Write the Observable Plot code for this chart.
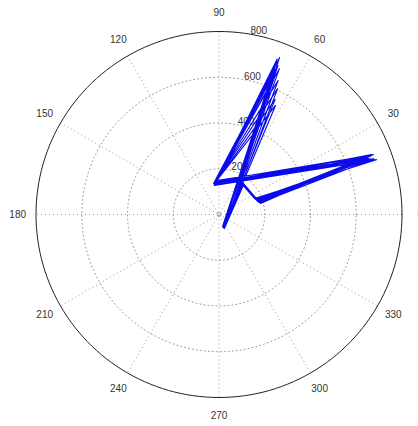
<!DOCTYPE html>
<html>
<head>
<meta charset="utf-8">
<script src="https://cdn.jsdelivr.net/npm/d3@7"></script>
<script src="https://cdn.jsdelivr.net/npm/@observablehq/plot@0.6"></script>
<style>
  html, body { margin: 0; padding: 0; background: #fff; overflow: hidden; }
  #chart { width: 418px; height: 426px; }
</style>
</head>
<body>
<div id="chart"></div>
<script>
// Polar grid settings
const rMax = 800;
const ringValues = [200, 400, 600];
const ringLabels = ["200", "400", "600", "800"];
const ringLabelRadii = [200, 400, 600, 800];
const spokeAngles = [0, 30, 60, 90, 120, 150];
const angleTicks = [0, 30, 60, 90, 120, 150, 180, 210, 240, 270, 300, 330];
const angleLabels = ["0", "30", "60", "90", "120", "150", "180", "210", "240", "270", "300", "330"];

// Trajectory: angle (degrees) and radius of each sample, one row per cycle
const thetaDeg = [
  289, 68.9, 96, 21.2, 18.7, 52.8,
  286, 69.3, 98.8, 19.2, 24.3, 50,
  291, 65.0, 94.2, 21.3, 14.8, 55,
  288, 69.4, 100, 21.2, 20, 52,
  290, 62.6, 97, 20.5, 17, 54,
  287, 67.5, 95, 20, 22, 51,
  289, 69.2, 99, 21.5, 19, 53,
  288, 68.4, 97.5, 20.8, 18, 52.5,
  290, 66.2, 96.5, 21.0, 21, 54,
  287, 69.0, 98, 19.8, 16, 51.5,
  291, 67.0, 95.5, 21.4, 20.5, 53.5,
  288, 68.0, 99.5, 20.3, 23, 52,
  289, 64.0, 96, 21.1, 18.5, 54.5,
  286, 69.5, 97, 19.5, 19.5, 51,
  289
];
const radius = [
  60, 736, 136, 724, 178, 170,
  55, 710, 128, 729, 170, 165,
  66, 607, 149, 687, 188, 175,
  58, 663, 138, 654, 180, 168,
  62, 537, 140, 700, 182, 172,
  57, 690, 145, 710, 175, 170,
  61, 612, 132, 716, 179, 169,
  59, 700, 139, 695, 184, 171,
  63, 640, 142, 670, 176, 173,
  56, 680, 134, 720, 186, 166,
  64, 575, 147, 705, 181, 174,
  58, 655, 131, 690, 172, 168,
  62, 560, 141, 712, 183, 172,
  57, 725, 137, 700, 177, 167,
  60
];

const rad = d => d * Math.PI / 180;
const px = (deg, r) => r * Math.cos(rad(deg));
const py = (deg, r) => r * Math.sin(rad(deg));

// Rings as closed polylines
const ringPts = [];
for (const r of ringValues.concat([rMax])) {
  for (let a = 0; a <= 360; a += 2) ringPts.push({ring: r, x: px(a, r), y: py(a, r)});
}
const dottedRings = ringPts.filter(d => d.ring !== rMax);
const outerRing = ringPts.filter(d => d.ring === rMax);

// Spokes span the full diameter
const spokes = spokeAngles.map(a => ({
  x1: px(a, rMax), y1: py(a, rMax), x2: px(a + 180, rMax), y2: py(a + 180, rMax)
}));

const angleText = angleTicks.map((a, i) => ({x: px(a, 1.1 * rMax), y: py(a, 1.1 * rMax), label: angleLabels[i]}));
const ringText = ringLabelRadii.map((r, i) => ({x: px(82, r), y: py(82, r), label: ringLabels[i]}));

const track = thetaDeg.map((t, i) => ({x: px(t, radius[i]), y: py(t, radius[i])}));

const k = rMax / 183;
const chart = Plot.plot({
  width: 418,
  height: 426,
  margin: 0,
  style: {fontFamily: "Arial, 'Liberation Sans', sans-serif", fontSize: "10px", background: "#fff"},
  x: {domain: [-218.5 * k, 199.5 * k], axis: null},
  y: {domain: [-212 * k, 214 * k], axis: null},
  marks: [
    Plot.line(dottedRings, {x: "x", y: "y", z: "ring", stroke: "#999", strokeWidth: 1, strokeDasharray: "1,3"}),
    Plot.link(spokes, {x1: "x1", y1: "y1", x2: "x2", y2: "y2", stroke: "#999", strokeWidth: 1, strokeDasharray: "1,3"}),
    Plot.line(outerRing, {x: "x", y: "y", stroke: "#222", strokeWidth: 1}),
    Plot.text(angleText, {x: "x", y: "y", text: "label", fill: "#333", fontSize: 10}),
    Plot.text(ringText, {x: "x", y: "y", text: "label", fill: "#333", fontSize: 10, textAnchor: "start", lineAnchor: "bottom", dx: 6, dy: 1}),
    Plot.text([{x: 0, y: 0}], {x: "x", y: "y", text: () => "0", fill: "#888", fontSize: 7}),
    Plot.line(track, {x: "x", y: "y", stroke: "#0a0aeb", strokeWidth: 1.1, curve: "linear"})
  ]
});
document.getElementById("chart").appendChild(chart);
</script>
</body>
</html>
